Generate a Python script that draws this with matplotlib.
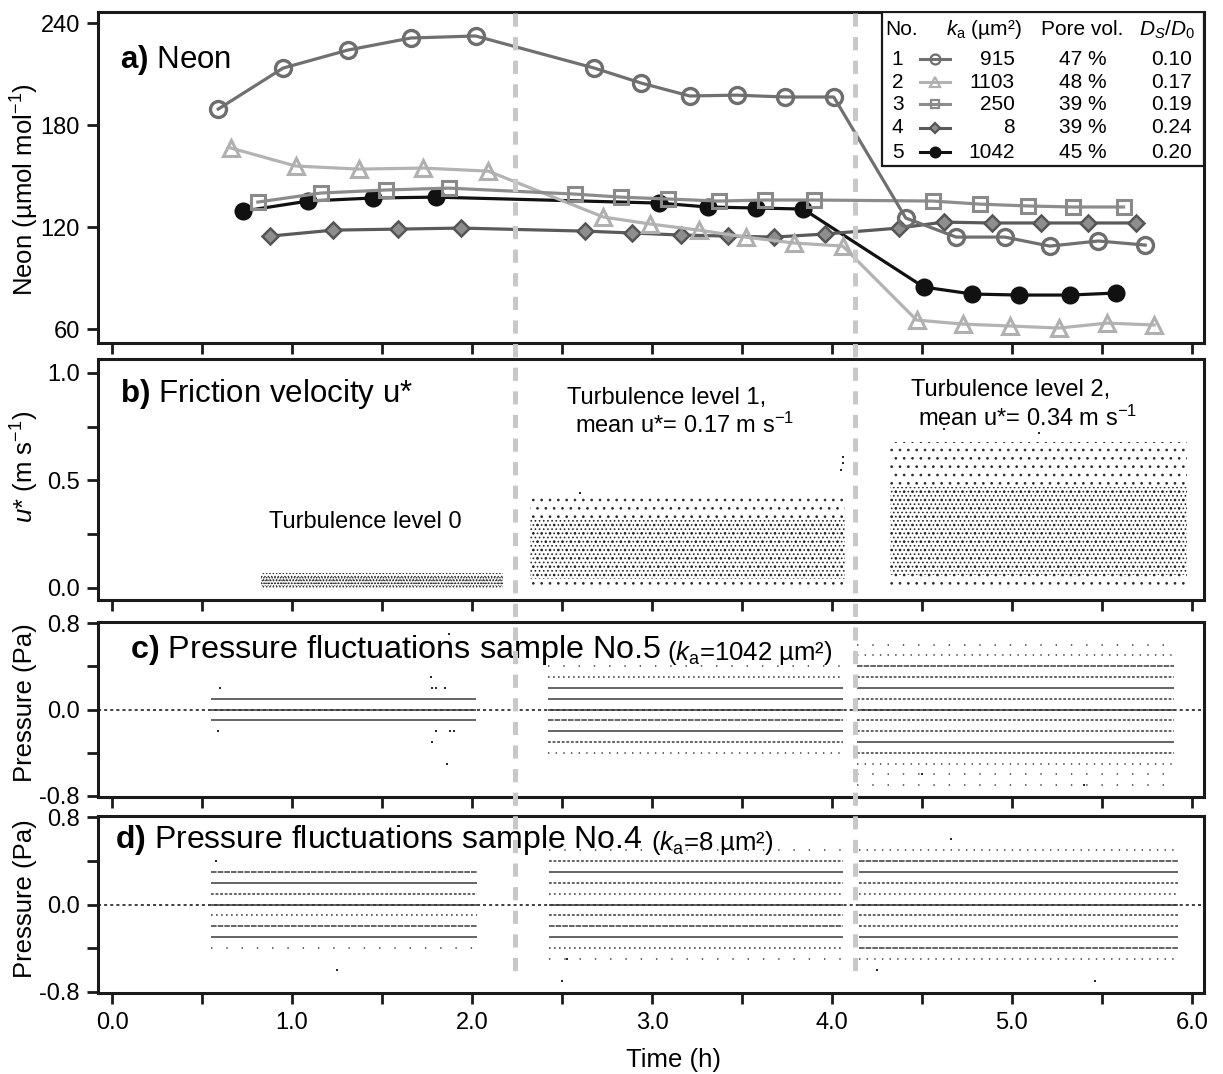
import matplotlib
matplotlib.use('Agg')
import matplotlib.pyplot as plt
import matplotlib.transforms as mtransforms
from matplotlib.lines import Line2D
from matplotlib.patches import Rectangle
from matplotlib.ticker import MultipleLocator, FixedLocator, FormatStrFormatter, NullLocator

plt.rcParams['font.family'] = ['Liberation Sans', 'DejaVu Sans']
plt.rcParams['mathtext.fontset'] = 'custom'
plt.rcParams['mathtext.rm'] = 'Liberation Sans'
plt.rcParams['mathtext.it'] = 'Liberation Sans:italic'
plt.rcParams['mathtext.bf'] = 'Liberation Sans:bold'
plt.rcParams['axes.unicode_minus'] = False
plt.rcParams['lines.scale_dashes'] = False
plt.rcParams['hatch.linewidth'] = 0.7

# ---- a) Neon, five samples ----
t1 = [0.59, 0.95, 1.31, 1.66, 2.02, 2.68, 2.94, 3.21, 3.47, 3.74, 4.01,
      4.41, 4.69, 4.96, 5.21, 5.48, 5.74]
ne1 = [189.4, 213.5, 224.1, 231.2, 232.4, 213.5, 204.7, 197.1, 197.6, 196.5, 196.5,
       125.3, 114.1, 114.1, 108.8, 111.8, 109.4]
t2 = [0.66, 1.02, 1.37, 1.73, 2.09, 2.73, 2.99, 3.26, 3.52, 3.79, 4.06,
      4.47, 4.73, 4.99, 5.26, 5.53, 5.79]
ne2 = [166.5, 155.9, 154.1, 154.7, 152.9, 125.9, 121.8, 118.2, 114.1, 110.6, 108.8,
       65.3, 62.9, 61.8, 60.6, 63.5, 62.4]
t3 = [0.81, 1.16, 1.52, 1.87, 2.57, 2.83, 3.09, 3.37, 3.63, 3.90,
      4.56, 4.82, 5.09, 5.34, 5.62]
ne3 = [134.7, 140.0, 141.8, 142.9, 139.4, 137.6, 136.5, 135.3, 135.9, 135.9,
       135.3, 133.5, 132.4, 131.8, 131.8]
t4 = [0.88, 1.23, 1.59, 1.94, 2.63, 2.89, 3.16, 3.42, 3.68, 3.96,
      4.37, 4.62, 4.89, 5.16, 5.42, 5.69]
ne4 = [114.7, 118.2, 118.8, 119.4, 117.6, 116.5, 115.3, 114.7, 114.1, 115.9,
       119.4, 122.9, 122.4, 122.4, 122.4, 122.4]
t5 = [0.73, 1.09, 1.45, 1.80, 3.04, 3.31, 3.58, 3.84, 4.51, 4.78, 5.04, 5.32, 5.58]
ne5 = [129.4, 135.3, 137.1, 137.6, 134.1, 131.8, 131.2, 130.6, 84.7, 80.6, 80.0, 80.0, 81.2]

legend_no = ['1', '2', '3', '4', '5']
legend_ka = ['915', '1103', '250', '8', '1042']
legend_pore = ['47 %', '48 %', '39 %', '39 %', '45 %']
legend_ds = ['0.10', '0.17', '0.19', '0.24', '0.20']

# ---- b) friction velocity, three turbulence levels ----
ustar_periods = [(0.83, 2.17), (2.32, 4.07), (4.32, 5.97)]
ustar_core = [(0.01, 0.05), (0.04, 0.32), (0.06, 0.47)]
ustar_spread = [(0.0, 0.07), (0.0, 0.44), (0.0, 0.68)]
ustar_out_t = [4.05, 4.06, 4.06, 2.60, 4.62, 5.15]
ustar_out_u = [0.55, 0.58, 0.61, 0.44, 0.74, 0.72]

# ---- c), d) pressure fluctuations, quantised levels ----
p_levels = [0.7, 0.6, 0.5, 0.4, 0.3, 0.2, 0.1, 0.0, -0.1, -0.2, -0.3, -0.4, -0.5, -0.6, -0.7]
c_periods = [(0.55, 2.02), (2.42, 4.06), (4.14, 5.90)]
c_density = [
    [0, 0, 0, 0, 0, 0, 3, 3, 3, 0, 0, 0, 0, 0, 0],
    [0, 0, 0, 0.5, 1.5, 3, 3, 3, 2.5, 3, 2, 1, 0, 0, 0],
    [0, 0.5, 1, 2.5, 2, 3, 2, 3, 2, 2, 3, 2, 1, 0.5, 0.5],
]
c_out_t = [0.60, 0.59, 1.77, 1.78, 1.80, 1.85, 1.80, 1.88, 1.90, 1.78, 1.86, 1.87, 4.50, 5.40]
c_out_p = [0.2, -0.2, 0.3, 0.2, 0.2, 0.2, -0.2, -0.2, -0.2, -0.3, -0.5, 0.7, -0.6, -0.7]
d_periods = [(0.55, 2.03), (2.43, 4.06), (4.15, 5.92)]
d_density = [
    [0, 0, 0, 0, 2.5, 3, 2, 3, 1.5, 2.5, 3, 0.5, 0, 0, 0],
    [0, 0, 0.5, 2, 3, 2, 1.5, 3, 2, 2.5, 3, 1.5, 0.5, 0, 0],
    [0, 0, 1, 2.5, 3, 2, 1.5, 3, 2, 2, 3, 2.5, 1, 0, 0],
]
d_out_t = [0.58, 1.25, 2.53, 2.50, 4.66, 4.25, 5.46]
d_out_p = [0.4, -0.6, -0.5, -0.7, 0.6, -0.6, -0.7]

phase_breaks = [2.24, 4.13]

W, H = 1223, 1074
fig = plt.figure(figsize=(W / 100, H / 100), dpi=100)


def panel(top, bottom):
    return fig.add_axes([98 / W, 1 - bottom / H, (1204 - 98) / W, (bottom - top) / H])


def style(ax):
    for s in ax.spines.values():
        s.set_linewidth(2.2)
        s.set_color('#1a1a1a')
    ax.set_xlim(-0.078, 6.067)
    ax.xaxis.set_major_locator(MultipleLocator(1))
    ax.xaxis.set_minor_locator(MultipleLocator(0.5))
    ax.xaxis.set_major_formatter(FormatStrFormatter('%.1f'))
    ax.yaxis.set_minor_locator(NullLocator())
    ax.tick_params(which='both', direction='out', length=8, width=2,
                   labelsize=17, pad=5, color='#1a1a1a')
    ax.tick_params(axis='x', labelbottom=False, pad=6)


ax_a = panel(12, 343)
ax_b = panel(359, 600)
ax_c = panel(622, 797)
ax_d = panel(816, 993)
for ax in (ax_a, ax_b, ax_c, ax_d):
    style(ax)
ax_d.tick_params(axis='x', labelbottom=True)

# ---- panel a ----
series = [
    (t5, ne5, '#111111', 'o', 11.5, '#111111', '#111111', 1.5),
    (t4, ne4, '#5a5a5a', 'D', 8, '#8e8e8e', '#555555', 1.8),
    (t2, ne2, '#b3b3b3', '^', 11, 'none', '#b0b0b0', 2.2),
    (t3, ne3, '#8c8c8c', 's', 10, 'none', '#8a8a8a', 2.2),
    (t1, ne1, '#707070', 'o', 11.5, 'none', '#6e6e6e', 2.4),
]
for t, v, c, m, ms, mfc, mec, mew in series:
    ax_a.plot(t, v, color=c, lw=2.3, marker=m, ms=ms, mfc=mfc, mec=mec, mew=mew)
ax_a.set_ylim(51.8, 246.5)
ax_a.yaxis.set_major_locator(FixedLocator([60, 120, 180, 240]))
ax_a.text(0.02, 0.831, r'$\mathbf{a)}$ Neon', transform=ax_a.transAxes,
          fontsize=22.5, va='baseline')

# legend table
ax_a.add_patch(Rectangle((0.709, 0.535), 0.291, 0.465, transform=ax_a.transAxes,
                         facecolor='white', edgecolor='#1a1a1a', lw=1.6, zorder=10))
hdr_y = 0.946
kw = dict(transform=ax_a.transAxes, fontsize=15, va='center', zorder=11)
ax_a.text(0.712, hdr_y, 'No.', ha='left', **kw)
ax_a.text(0.801, hdr_y, r'$k_{\mathrm{a}}$ (µm²)', ha='center', **kw)
ax_a.text(0.890, hdr_y, 'Pore vol.', ha='center', **kw)
ax_a.text(0.992, hdr_y, r'$D_S/D_0$', ha='right', **kw)
row_y = [0.858, 0.788, 0.722, 0.650, 0.577]
leg_style = [series[4], series[2], series[3], series[1], series[0]]
for i in range(5):
    y = row_y[i]
    ax_a.text(0.723, y, legend_no[i], ha='center', **kw)
    ax_a.text(0.829, y, legend_ka[i], ha='right', **kw)
    ax_a.text(0.890, y, legend_pore[i], ha='center', **kw)
    ax_a.text(0.989, y, legend_ds[i], ha='right', **kw)
    _, _, c, m, ms, mfc, mec, mew = leg_style[i]
    ax_a.plot([0.743, 0.770], [y, y], transform=ax_a.transAxes, color=c, lw=2.2,
              zorder=11, clip_on=False)
    ax_a.plot([0.757], [y], transform=ax_a.transAxes, marker=m, ms=ms * 0.62,
              mfc=mfc, mec=mec, mew=min(mew, 1.6), zorder=12, clip_on=False)

# ---- panel b ----
ax_b.set_ylim(-0.056, 1.065)
ax_b.yaxis.set_major_locator(MultipleLocator(0.5))
ax_b.yaxis.set_minor_locator(MultipleLocator(0.25))
ax_b.yaxis.set_major_formatter(FormatStrFormatter('%.1f'))
hatch_spread = ['.....', '..', '..']
hatch_core = ['......', '....', '....']
for (p0, p1), (lo, hi), (slo, shi), hs, hc in zip(ustar_periods, ustar_core, ustar_spread,
                                                 hatch_spread, hatch_core):
    ax_b.fill_between([p0, p1], [slo, slo], [shi, shi], facecolor='none',
                      edgecolor='#2a2a2a', linewidth=0, hatch=hs)
    ax_b.fill_between([p0, p1], [lo, lo], [hi, hi], facecolor='none',
                      edgecolor='#2a2a2a', linewidth=0, hatch=hc)
ax_b.plot(ustar_out_t, ustar_out_u, ls='none', marker='s', ms=1.6, color='#2a2a2a', mew=0)
ax_b.text(0.02, 0.822, r'$\mathbf{b)}$ Friction velocity u*', transform=ax_b.transAxes,
          fontsize=22.5, va='baseline')
ax_b.text(1.405, 0.307, 'Turbulence level 0', fontsize=17, ha='center', va='center')
ax_b.text(2.53, 0.884, 'Turbulence level 1,', fontsize=17, ha='left', va='center')
ax_b.text(2.57, 0.758, r'mean u*= 0.17 m s$^{-1}$', fontsize=17, ha='left', va='center')
ax_b.text(4.44, 0.92, 'Turbulence level 2,', fontsize=17, ha='left', va='center')
ax_b.text(4.48, 0.79, r'mean u*= 0.34 m s$^{-1}$', fontsize=17, ha='left', va='center')

# ---- panels c, d ----
dash_map = {3: '-', 2.5: (0, (4, 0.8)), 2: (0, (2, 1.3)), 1.5: (0, (1.2, 2.4)),
            1: (0, (1, 4.5)), 0.5: (0, (1, 10))}


def pressure(ax, periods, density, out_t, out_p):
    ax.set_ylim(-0.81, 0.81)
    ax.yaxis.set_major_locator(FixedLocator([-0.8, 0.0, 0.8]))
    ax.yaxis.set_minor_locator(FixedLocator([-0.4, 0.4]))
    ax.yaxis.set_major_formatter(FormatStrFormatter('%.1f'))
    ax.axhline(0, color='#333333', lw=1.3, ls=(0, (2.2, 2.2)), zorder=1)
    for (p0, p1), dens in zip(periods, density):
        for lv, d in zip(p_levels, dens):
            if d == 0:
                continue
            ax.plot([p0, p1], [lv, lv], color='#3a3a3a', lw=1.1, ls=dash_map[d],
                    solid_capstyle='butt', dash_capstyle='butt', zorder=2)
    ax.plot(out_t, out_p, ls='none', marker='s', ms=1.6, color='#2b2b2b', mew=0)


pressure(ax_c, c_periods, c_density, c_out_t, c_out_p)
pressure(ax_d, d_periods, d_density, d_out_t, d_out_p)

t_c = ax_c.text(0.029, 0.794, r'$\mathbf{c)}$ Pressure fluctuations sample No.5',
                transform=ax_c.transAxes, fontsize=23.3, va='baseline')
ax_c.annotate(r'($k_{\mathrm{a}}$=1042 µm²)', xy=(1, 0), xycoords=t_c, xytext=(4, 0),
              textcoords='offset points', fontsize=18.5, va='bottom')
t_d = ax_d.text(0.0154, 0.819, r'$\mathbf{d)}$ Pressure fluctuations sample No.4',
                transform=ax_d.transAxes, fontsize=23, va='baseline')
ax_d.annotate(r'($k_{\mathrm{a}}$=8 µm²)', xy=(1, 0), xycoords=t_d, xytext=(6, 0),
              textcoords='offset points', fontsize=18.5, va='bottom')

# ---- axis labels ----
fig.text(25 / W, 1 - 190 / H, r'Neon (µmol mol$^{-1}$)', rotation=90, fontsize=18.5,
         ha='center', va='center')
fig.text(25 / W, 1 - 467 / H, r'$u$* (m s$^{-1}$)', rotation=90, fontsize=18.5,
         ha='center', va='center')
fig.text(25 / W, 1 - 703 / H, 'Pressure (Pa)', rotation=90, fontsize=18.5,
         ha='center', va='center')
fig.text(25 / W, 1 - 899 / H, 'Pressure (Pa)', rotation=90, fontsize=18.5,
         ha='center', va='center')
fig.text(674 / W, 1 - 1060 / H, 'Time (h)', fontsize=18.5, ha='center', va='center')

# ---- phase separators across all panels ----
trans = mtransforms.blended_transform_factory(ax_d.transData, fig.transFigure)
for xb in phase_breaks:
    fig.add_artist(Line2D([xb, xb], [1 - 13 / H, 1 - 980 / H], transform=trans,
                          color='#c8c8c8', lw=3.6, ls=(0, (9.5, 7.5)), zorder=5))

fig.savefig('out.png', dpi=100)
